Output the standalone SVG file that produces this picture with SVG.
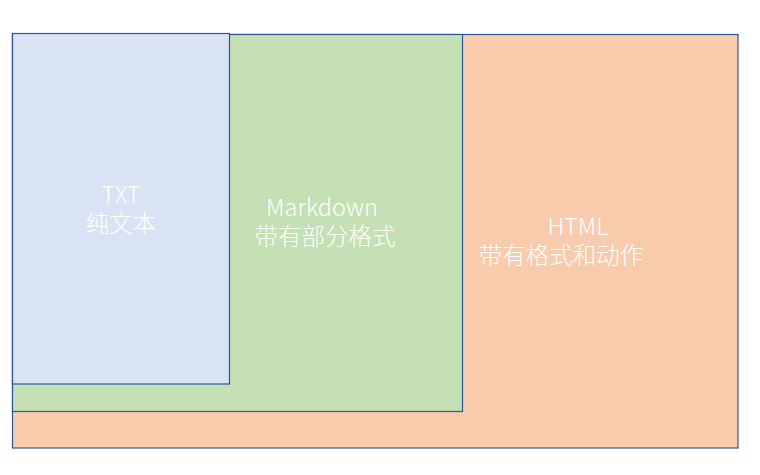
<svg xmlns="http://www.w3.org/2000/svg" width="760" height="475" viewBox="0 0 760 475">
<style>
.box{stroke:#2F5597;stroke-width:1.2}
.t{font-family:"Noto Sans CJK SC","Noto Sans",sans-serif;font-size:23.5px;font-weight:300;fill:#FFFFFF;text-anchor:middle}
</style>
<rect width="760" height="475" fill="#FFFFFF"/>
<g id="html">
<rect class="box" x="12.5" y="34.5" width="725.5" height="413.5" fill="#F8CBAD"/>
<text class="t" y="234.5"><tspan x="578">HTML</tspan><tspan x="561" dy="29">带有格式和动作</tspan></text>
</g>
<g id="markdown">
<rect class="box" x="12.5" y="34.5" width="450" height="377" fill="#C5E0B4"/>
<text class="t" y="215.5"><tspan x="322">Markdown</tspan><tspan x="325" dy="29.5">带有部分格式</tspan></text>
</g>
<g id="txt">
<rect class="box" x="12.5" y="33.5" width="217" height="350.5" fill="#DAE3F3"/>
<text class="t" y="202.5"><tspan x="121">TXT</tspan><tspan x="121" dy="29">纯文本</tspan></text>
</g>
<g id="connectors"/>
</svg>
